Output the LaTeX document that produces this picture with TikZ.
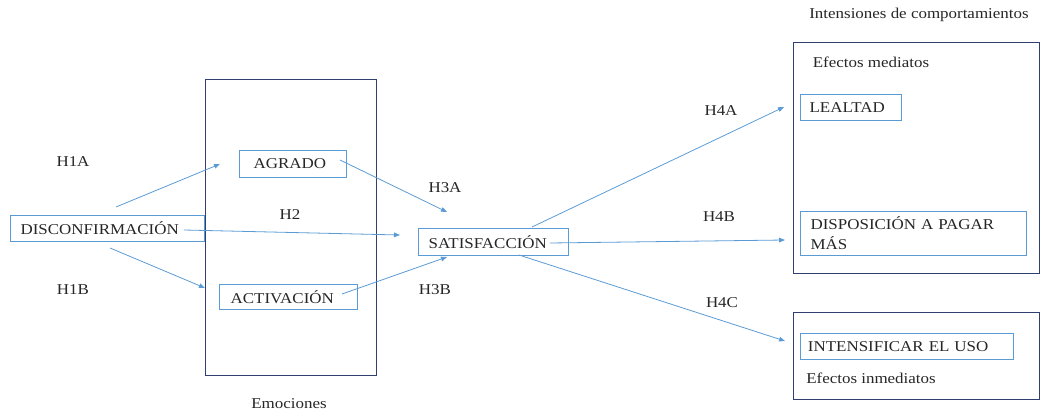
\documentclass[tikz,border=0pt]{standalone}
\usepackage{fontspec}
\setmainfont[FakeStretch=1.13]{Liberation Serif}
\usetikzlibrary{arrows.meta}
\definecolor{lblue}{HTML}{5B9BD5}
\definecolor{navy}{HTML}{2F3F70}
\definecolor{txt}{HTML}{262626}
\begin{document}
\begin{tikzpicture}[x=0.75pt,y=-0.75pt,
  font=\fontsize{11.25}{15}\selectfont, text=txt,
  box/.style={draw=lblue, line width=0.9pt, anchor=north west, align=left, inner ysep=0pt},
  outerbox/.style={draw=navy, line width=1pt, anchor=north west, inner sep=0pt},
  lbl/.style={inner sep=0pt},
  conn/.style={draw=lblue, line width=0.6pt, -{Triangle[length=4.5pt,width=3.5pt]}}]
\useasboundingbox (0,0) rectangle (1041,413);

% outer boxes
\node[outerbox, minimum width=128.25pt, minimum height=222pt] (emo) at (205,79) {};
\node[outerbox, minimum width=184.5pt, minimum height=173.25pt] (mediatos) at (793,42) {};
\node[outerbox, minimum width=184.5pt, minimum height=65.25pt] (inmediatos) at (793,312) {};

% group labels
\node[lbl] (temo) at (289,404) {Emociones};
\node[lbl] (tint) at (919,15) {Intensiones de comportamientos};
\node[lbl] (tmed) at (871,62) {Efectos mediatos};
\node[lbl] (tinm) at (871,378) {Efectos inmediatos};

% inner boxes
\node[box, minimum width=145.5pt, minimum height=19.5pt, inner xsep=7.5pt, text width=130.5pt] (disc) at (10,215) {DISCONFIRMACIÓN};
\node[box, minimum width=80.25pt, minimum height=20.25pt, inner xsep=10.5pt, text width=59.25pt] (agrado) at (239,150) {AGRADO};
\node[box, minimum width=103.5pt, minimum height=18.75pt, inner xsep=8.25pt, text width=87pt] (activ) at (219,284) {ACTIVACIÓN};
\node[box, minimum width=112.5pt, minimum height=20.25pt, inner xsep=7.5pt, text width=97.5pt] (satis) at (418,228) {SATISFACCIÓN};
\node[box, minimum width=75.75pt, minimum height=19.5pt, inner xsep=6.75pt, text width=62.25pt] (lealtad) at (800,94) {LEALTAD};
\node[box, minimum width=169.5pt, minimum height=33pt, inner xsep=7.5pt, text width=154.5pt] (dispo) at (800,211) {DISPOSICIÓN A PAGAR\\MÁS};
\node[box, minimum width=159.75pt, minimum height=19.5pt, inner xsep=5.5pt, text width=148.75pt] (intens) at (800,333) {INTENSIFICAR EL USO};

% hypothesis labels
\node[lbl] (h1a) at (73,162) {H1A};
\node[lbl] (h1b) at (73,290) {H1B};
\node[lbl] (h2) at (290,215) {H2};
\node[lbl] (h3a) at (445,188) {H3A};
\node[lbl] (h3b) at (435,290) {H3B};
\node[lbl] (h4a) at (721,111) {H4A};
\node[lbl] (h4b) at (719,217) {H4B};
\node[lbl] (h4c) at (722,303) {H4C};

% connector end points
\coordinate (a1s) at (116,207); \coordinate (a1e) at (220,164);
\coordinate (b1s) at (110,248); \coordinate (b1e) at (205,288);
\coordinate (h2s) at (184,230); \coordinate (h2e) at (400,235);
\coordinate (h3as) at (340,160); \coordinate (h3ae) at (447,212);
\coordinate (h3bs) at (342,294); \coordinate (h3be) at (447,257);
\coordinate (h4as) at (532,227); \coordinate (h4ae) at (784,107);
\coordinate (h4bs) at (550,243); \coordinate (h4be) at (785,240);
\coordinate (h4cs) at (519,255); \coordinate (h4ce) at (785,341);

\draw[conn] (a1s) -- (a1e);
\draw[conn] (b1s) -- (b1e);
\draw[conn] (h2s) -- (h2e);
\draw[conn] (h3as) -- (h3ae);
\draw[conn] (h3bs) -- (h3be);
\draw[conn] (h4as) -- (h4ae);
\draw[conn] (h4bs) -- (h4be);
\draw[conn] (h4cs) -- (h4ce);
\end{tikzpicture}
\end{document}
